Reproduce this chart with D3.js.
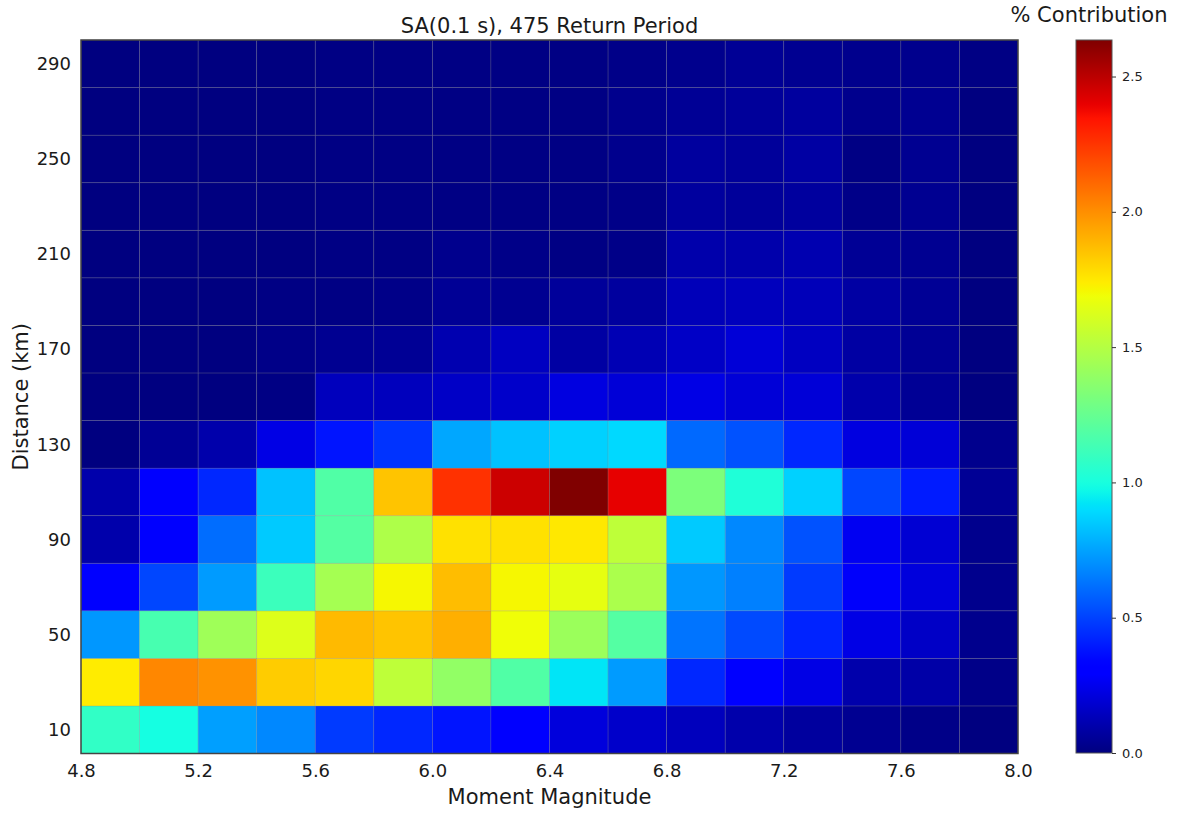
<!DOCTYPE html>
<html>
<head>
<meta charset="utf-8">
<script src="https://cdn.jsdelivr.net/npm/d3@7"></script>
<style>
  html, body { margin: 0; padding: 0; background: #fff; }
  svg { display: block; font-family: "DejaVu Sans", sans-serif; }
</style>
</head>
<body>
<svg id="chart" width="1178" height="813"></svg>
<script>
// Magnitude bin edges and distance bin edges (km)
const magEdges = d3.range(0, 17).map(i => +(4.8 + i * 0.2).toFixed(1));
const distEdges = d3.range(0, 16).map(i => i * 20);

// Tick labels
const magTicks = [4.8, 5.2, 5.6, 6.0, 6.4, 6.8, 7.2, 7.6, 8.0];
const distTicks = [10, 50, 90, 130, 170, 210, 250, 290];
const barTicks = [0.0, 0.5, 1.0, 1.5, 2.0, 2.5];

// % contribution per magnitude bin (4.8-5.0 ... 7.8-8.0), one array per distance bin
const pct_0_20    = [1.08, 0.99, 0.74, 0.68, 0.48, 0.43, 0.38, 0.31, 0.21, 0.17, 0.14, 0.10, 0.07, 0.04, 0.02, 0.00];
const pct_20_40   = [1.74, 2.02, 1.99, 1.83, 1.80, 1.53, 1.39, 1.18, 0.92, 0.73, 0.43, 0.32, 0.23, 0.10, 0.09, 0.02];
const pct_40_60   = [0.72, 1.15, 1.43, 1.63, 1.88, 1.85, 1.91, 1.69, 1.42, 1.19, 0.63, 0.52, 0.42, 0.23, 0.16, 0.03];
const pct_60_80   = [0.31, 0.51, 0.73, 1.11, 1.45, 1.71, 1.87, 1.71, 1.66, 1.47, 0.72, 0.66, 0.48, 0.28, 0.21, 0.03];
const pct_80_100  = [0.10, 0.29, 0.61, 0.85, 1.19, 1.48, 1.77, 1.77, 1.75, 1.53, 0.85, 0.68, 0.54, 0.26, 0.19, 0.03];
const pct_100_120 = [0.10, 0.29, 0.43, 0.83, 1.18, 1.85, 2.26, 2.46, 2.635, 2.40, 1.32, 1.02, 0.87, 0.51, 0.40, 0.05];
const pct_120_140 = [0.00, 0.05, 0.10, 0.23, 0.38, 0.46, 0.76, 0.83, 0.87, 0.89, 0.60, 0.54, 0.43, 0.22, 0.20, 0.03];
const pct_140_160 = [0.00, 0.00, 0.00, 0.01, 0.14, 0.14, 0.16, 0.17, 0.22, 0.20, 0.23, 0.20, 0.20, 0.10, 0.05, 0.00];
const pct_160_180 = [0.00, 0.00, 0.00, 0.02, 0.04, 0.05, 0.11, 0.15, 0.08, 0.12, 0.16, 0.20, 0.15, 0.08, 0.05, 0.00];
const pct_180_200 = [0.00, 0.00, 0.00, 0.01, 0.01, 0.02, 0.05, 0.04, 0.06, 0.07, 0.13, 0.14, 0.13, 0.08, 0.05, 0.00];
const pct_200_220 = [0.00, 0.00, 0.00, 0.00, 0.01, 0.01, 0.03, 0.02, 0.01, 0.02, 0.10, 0.10, 0.11, 0.05, 0.04, 0.00];
const pct_220_240 = [0.00, 0.00, 0.00, 0.00, 0.01, 0.01, 0.01, 0.01, 0.01, 0.02, 0.07, 0.06, 0.07, 0.02, 0.04, 0.00];
const pct_240_260 = [0.00, 0.00, 0.00, 0.00, 0.01, 0.01, 0.01, 0.01, 0.01, 0.03, 0.07, 0.06, 0.08, 0.01, 0.04, 0.00];
const pct_260_280 = [0.00, 0.00, 0.00, 0.00, 0.01, 0.01, 0.01, 0.01, 0.01, 0.03, 0.05, 0.06, 0.07, 0.03, 0.04, 0.00];
const pct_280_300 = [0.00, 0.00, 0.00, 0.00, 0.01, 0.01, 0.01, 0.01, 0.01, 0.02, 0.03, 0.05, 0.04, 0.03, 0.03, 0.01];

const distRows = [pct_0_20, pct_20_40, pct_40_60, pct_60_80, pct_80_100, pct_100_120,
  pct_120_140, pct_140_160, pct_160_180, pct_180_200, pct_200_220, pct_220_240,
  pct_240_260, pct_260_280, pct_280_300];

// Flatten into cells
const cells = [];
distRows.forEach((row, j) => row.forEach((v, i) => cells.push({
  m0: magEdges[i], m1: magEdges[i + 1], d0: distEdges[j], d1: distEdges[j + 1], v
})));

// Jet colormap (piecewise linear channels)
const chR = d3.scaleLinear().domain([0, 0.35, 0.66, 0.89, 1]).range([0, 0, 1, 1, 0.5]).clamp(true);
const chG = d3.scaleLinear().domain([0, 0.125, 0.375, 0.64, 0.91, 1]).range([0, 0, 1, 1, 0, 0]).clamp(true);
const chB = d3.scaleLinear().domain([0, 0.11, 0.34, 0.65, 1]).range([0.5, 1, 1, 0, 0]).clamp(true);
const jet = t => d3.rgb(chR(t) * 255, chG(t) * 255, chB(t) * 255).formatHex();

const vmax = d3.max(cells, d => d.v);
const norm = d3.scaleLinear().domain([0, vmax]).range([0, 1]).clamp(true);

const svg = d3.select("#chart");
const L = 81, R = 1018, T = 40, B = 753.5;
const x = d3.scaleLinear().domain([4.8, 8.0]).range([L, R]);
const y = d3.scaleLinear().domain([0, 300]).range([B, T]);

// Heatmap cells
svg.append("g").selectAll("rect").data(cells).join("rect")
  .attr("x", d => x(d.m0))
  .attr("y", d => y(d.d1))
  .attr("width", d => x(d.m1) - x(d.m0))
  .attr("height", d => y(d.d0) - y(d.d1))
  .attr("fill", d => jet(norm(d.v)))
  .attr("stroke", "rgba(128,128,128,0.28)")
  .attr("stroke-width", 0.8);

// Frame
svg.append("rect")
  .attr("x", L).attr("y", T).attr("width", R - L).attr("height", B - T)
  .attr("fill", "none").attr("stroke", "#444").attr("stroke-width", 1.5);

// Axes
const xAxis = svg.append("g").attr("transform", `translate(0,${B})`)
  .call(d3.axisBottom(x).tickValues(magTicks).tickFormat(d3.format(".1f")).tickSize(0).tickPadding(11));
const yAxis = svg.append("g").attr("transform", `translate(${L},0)`)
  .call(d3.axisLeft(y).tickValues(distTicks).tickFormat(d3.format("d")).tickSize(0).tickPadding(10));
[xAxis, yAxis].forEach(a => {
  a.select(".domain").remove();
  a.selectAll("text").attr("font-size", 18).attr("fill", "#1a1a1a").attr("font-family", "DejaVu Sans");
});

// Titles
svg.append("text").attr("x", (L + R) / 2).attr("y", 33).attr("text-anchor", "middle")
  .attr("font-size", 21).attr("fill", "#1a1a1a").text("SA(0.1 s), 475 Return Period");
svg.append("text").attr("x", (L + R) / 2).attr("y", 804).attr("text-anchor", "middle")
  .attr("font-size", 21).attr("fill", "#1a1a1a").text("Moment Magnitude");
svg.append("text").attr("transform", `translate(28,${(T + B) / 2}) rotate(-90)`)
  .attr("text-anchor", "middle").attr("font-size", 21).attr("fill", "#1a1a1a").text("Distance (km)");

// Colorbar
const cbL = 1076, cbR = 1112, cbT = 40, cbB = 753;
const cy = d3.scaleLinear().domain([0, vmax]).range([cbB, cbT]);
const grad = svg.append("defs").append("linearGradient")
  .attr("id", "jetGrad").attr("x1", 0).attr("y1", 1).attr("x2", 0).attr("y2", 0);
d3.range(0, 101).forEach(k => {
  grad.append("stop").attr("offset", `${k}%`).attr("stop-color", jet(k / 100));
});
svg.append("rect").attr("x", cbL).attr("y", cbT).attr("width", cbR - cbL).attr("height", cbB - cbT)
  .attr("fill", "url(#jetGrad)").attr("stroke", "#555").attr("stroke-width", 1);
const cAxis = svg.append("g").attr("transform", `translate(${cbR},0)`)
  .call(d3.axisRight(cy).tickValues(barTicks).tickFormat(d3.format(".1f")).tickSize(4).tickPadding(6));
cAxis.select(".domain").remove();
cAxis.selectAll("line").attr("stroke", "#333");
cAxis.selectAll("text").attr("font-size", 13).attr("fill", "#222").attr("font-family", "DejaVu Sans");

svg.append("text").attr("x", 1089).attr("y", 22).attr("text-anchor", "middle")
  .attr("font-size", 21).attr("fill", "#1a1a1a").text("% Contribution");
</script>
</body>
</html>
